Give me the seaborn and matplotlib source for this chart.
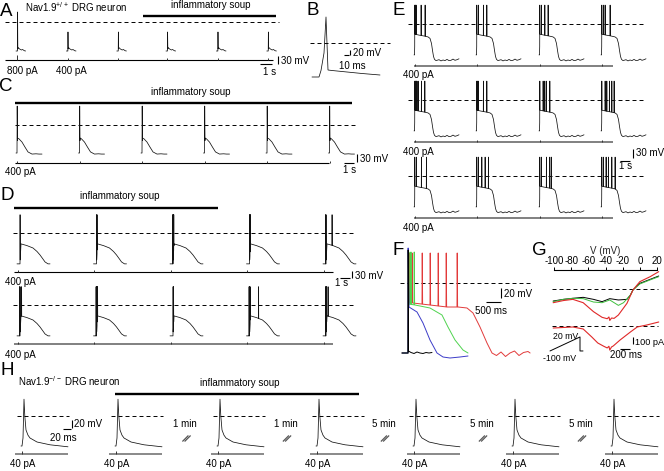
import numpy as np
import pandas as pd
import matplotlib
matplotlib.use("Agg")
import matplotlib.pyplot as plt
import seaborn as sns

sns.set_style("white")
plt.rcParams["font.family"] = ["Liberation Sans", "DejaVu Sans"]
plt.rcParams["mathtext.fontset"] = "custom"
plt.rcParams["mathtext.rm"] = "Liberation Sans"
plt.rcParams["mathtext.it"] = "Liberation Sans"
plt.rcParams["mathtext.bf"] = "Liberation Sans"
plt.rcParams["mathtext.sf"] = "Liberation Sans"
plt.rcParams["axes.unicode_minus"] = False

# ===================== DATA =====================
# A : time in s, membrane potential in mV
a_sweep_s = [0.0, 4.2, 8.4, 12.5, 16.7, 20.9]
a_peak_mv = [40, -40, -40, -40, -40, -40]
a_stim_pa = [800, 400, 400, 400, 400, 400]
a_env_s = [0.0, 0.12, 0.17, 0.30, 0.45, 0.55, 0.70, 0.80]
a_env_mv = [-116, -116, -102, -108, -112, -110, -115, -116]
a_spike_s = [0.12]
a_soup_s = [10.6, 21.7]

# B : single action potential, ms / mV
b_t_ms = [0, 14, 18, 24, 28, 32, 40, 70, 100, 136]
b_v_mv = [-136, -136, -110, -40, 104, -108, -110, -116, -122, -128]

# C
c_sweep_s = [0.0, 6.25, 12.5, 18.75, 25.0, 31.25]
c_env_s = [0.0, 0.1, 0.16, 0.3, 0.6, 0.9, 1.2, 1.6, 2.0, 2.3, 2.6]
c_env_mv = [-105, -105, -49, -52, -64, -83, -101, -109, -108, -109, -109]
c_spike_s = [0.1]
c_peak_mv = 71
c_soup_s = [-0.1, 33.6]

# D
d_sweep_s = [0.0, 7.65, 15.3, 22.95, 30.6]
d_env_s = [0.0, 0.3, 0.4, 1.0, 1.6, 2.0, 2.3, 2.6, 2.8, 3.1, 3.3]
d_env_mv = [-142, -142, -50, -58, -69, -85, -101, -120, -133, -142, -142]
d_peak_mv = 84
d_spikes_s = [
    [[0.3], [0.3, 0.35], [0.27, 0.3, 0.33, 0.37], [0.3, 0.34, 0.38], [0.25, 0.3, 0.9]],
    [[0.25, 0.3, 0.45], [0.25, 0.3, 0.35, 0.4], [0.3, 0.35], [0.25, 0.3, 0.36, 1.2],
     [0.25, 0.3, 0.35, 0.5]],
]
d_soup_s = [-0.3, 20.1]

# E
e_sweep_s = [0.0, 6.2, 12.5, 18.7]
e_env_s = [0, 0.05, 0.1, 0.5, 1.0, 1.4, 1.6, 1.75, 1.85, 1.95, 2.05, 2.2, 2.5, 2.7,
           2.9, 3.1, 3.3, 3.5, 3.7, 3.9, 4.1, 4.3, 4.5]
e_env_mv = [-103, -103, -34, -37, -40, -43, -48, -65, -88, -108, -118, -122, -119, -123,
            -120, -122, -118, -122, -121, -117, -121, -119, -116]
e_peak_mv = 63
e_spikes_s = [
    [[0.07, 0.13, 0.2, 0.7, 1.1], [0.07, 0.23, 0.73, 1.07], [0.07, 0.23, 0.57, 0.9],
     [0.07, 0.23, 0.4, 0.9]],
    [[0.07, 0.13, 0.2, 0.27, 0.4, 0.73, 1.07], [0.07, 0.13, 0.23, 0.73, 1.07],
     [0.07, 0.4, 0.57, 0.73, 1.07], [0.07, 0.4, 0.57, 0.83, 1.07, 1.3]],
    [[0.07, 0.23, 0.73, 1.23], [0.07, 0.23, 0.57, 0.9, 1.23], [0.07, 0.23, 0.73, 1.07, 1.23],
     [0.07, 0.23, 0.5, 0.73, 1.07, 1.4]],
]

# F : ms / mV, four overlaid responses
f_blk_ms = [-200, 0, 5, 15, 100, 200, 300, 400, 500, 600, 700, 800]
f_blk_mv = [-140, -140, 66, -136, -139, -141, -138, -140, -141, -139, -140, -139]
f_blu_ms = [-200, 0, 5, 33, 300, 500, 733, 967, 1167, 1400, 1733, 2000]
f_blu_mv = [-140, -140, 70, -48, -58, -80, -114, -140, -148, -150, -148, -146]
f_grn_ms = [-200, 0, 20, 233, 733, 1133, 1333, 1567, 1833, 2000]
f_grn_mv = [-140, -140, -42, -44, -50, -64, -88, -114, -134, -140]
f_grn_spk = [20, 90, 200]
f_red_ms = [-200, 0, 20, 167, 733, 1300, 1667, 1967, 2167, 2400, 2633, 2800, 2950, 3100,
            3250, 3400, 3550, 3700, 3850, 4000, 4070]
f_red_mv = [-140, -140, -38, -40, -44, -48, -48, -50, -60, -88, -120, -140, -145, -138,
            -147, -140, -136, -145, -139, -137, -140]
f_red_spk = [30, 130, 467, 733, 1000, 1267, 1633]

# G : current (pA) vs ramp voltage (mV)
g_blk_v = [-101, -89, -78, -66, -54, -44, -35, -25, -15, -11, -8, 0, 12, 22]
g_blk_i = [-172, -148, -133, -119, -148, -181, -138, -157, -148, -86, -14, 81, 138, 186]
g_grn_v = [-101, -89, -78, -66, -54, -44, -35, -25, -19, -11, -8, 0, 12, 22]
g_grn_i = [-181, -148, -133, -138, -186, -196, -157, -234, -196, -86, -14, 72, 130, 176]
g_red_v = [-101, -89, -78, -66, -54, -44, -38, -36, -35, -33, -30, -25, -15, -8, 0, 12, 22]
g_red_i = [-196, -165, -148, -196, -324, -405, -425, -400, -450, -415, -420, -372, -205, -14,
           105, 176, 248]
g_dif_v = [-101, -78, -66, -56, -49, -42, -38, -36, -35, -33, -31, -23, -11, -3, 8, 22]
g_dif_i = [-29, -14, -43, -157, -243, -290, -314, -290, -345, -300, -286, -200, -86, -14, 14, 57]
g_ramp_ms = [0, 600, 600, 660]
g_ramp_mv = [-100, 20, -100, -100]
g_ticks_mv = [-100, -80, -60, -40, -20, 0, 20]

# H : Nav1.9-/- single APs, ms / mV
h_t_ms = [-2.5, 0, 2.5, 5, 7, 10, 15, 20, 37.5, 70, 115]
h_v_mv = [-75, -75, -55, 42, 0, -35, -48, -55, -65, -72, -77]
h_gap = ["", "1 min", "1 min", "5 min", "5 min", "5 min"]
h_stim_pa = 40

# ===================== LAYOUT =====================
W, H = 664, 471
fig = plt.figure(figsize=(W / 100, H / 100), dpi=100)
fig.patch.set_facecolor("white")

LW = 0.55


def calib_axes(x0, y0, sx, sy):
    """Full-figure axes where data (0,0) sits at pixel (x0,y0); sx, sy = data units per pixel."""
    ax = fig.add_axes([0, 0, 1, 1])
    ax.set_xlim(-x0 * sx, (W - x0) * sx)
    ax.set_ylim((y0 - H) * sy, y0 * sy)
    ax.set_autoscale_on(False)
    ax.axis("off")
    ax.patch.set_alpha(0)
    return ax


DASH = (0, (4.1, 3.1))


def trace(ax, t, v, color="#111111", lw=LW):
    sns.lineplot(x=np.asarray(t, float), y=np.asarray(v, float), ax=ax, color=color,
                 linewidth=lw, sort=False, estimator=None, clip_on=False)


def seg(ax, t, v, color="black", lw=0.8):
    ax.plot(t, v, color=color, lw=lw, clip_on=False, solid_capstyle="butt")


def dashed(ax, t0, t1, v, lw=0.7):
    ax.plot([t0, t1], [v, v], color="black", lw=lw, ls=DASH, clip_on=False)


def stim(ax, t0, t1, base, onsets, heights, width, color, lw):
    ax.plot([t0, t1], [base, base], color=color, lw=lw, clip_on=False, solid_capstyle="butt")
    for o, h in zip(onsets, heights):
        ax.plot([o, o], [base, base + h], color="#333333", lw=0.7, clip_on=False,
                solid_capstyle="butt")


def spiky(env_t, env_v, spikes, peak, w):
    et = np.asarray(env_t, float)
    ev = np.asarray(env_v, float)
    keep = [not any(s <= x <= s + w for s in spikes) for x in et]
    t = list(et[keep])
    v = list(ev[keep])
    for s in spikes:
        t += [s, s + 0.4 * w, s + w]
        v += [np.interp(s, et, ev), peak, np.interp(s + w, et, ev)]
    order = np.argsort(t, kind="stable")
    return np.array(t)[order], np.array(v)[order]


# ---------- A ----------
axA = calib_axes(16, 22, 1 / 12, 4)
dashed(axA, -0.9, 21.9, 0)
seg(axA, a_soup_s, [24, 24], lw=1.7)
for st, pk in zip(a_sweep_s, a_peak_mv):
    t, v = spiky(a_env_s, a_env_mv, a_spike_s, pk, 0.03)
    trace(axA, t + st, v)
stim(axA, -0.9, 21.4, -152, [s + a_spike_s[0] for s in a_sweep_s],
     [p * 0.025 for p in a_stim_pa], 0.0, "black", 0.8)
seg(axA, [21.8, 21.8], [-136, -166])
seg(axA, [20.3, 21.3], [-168, -168])

# ---------- B ----------
axB = calib_axes(312, 43, 2, 4)
dashed(axB, -4, 156, 0)
trace(axB, b_t_ms, b_v_mv)
seg(axB, [75, 75], [-28, -48])
seg(axB, [64, 74], [-48, -48])

# ---------- C ----------
axC = calib_axes(16, 125, 0.1, 3.75)
seg(axC, c_soup_s, [82.5, 82.5], lw=1.7)
dashed(axC, -0.1, 33.9, 0)
for st in c_sweep_s:
    t, v = spiky(c_env_s, c_env_mv, c_spike_s, c_peak_mv, 0.05)
    trace(axC, t + st, v)
stim(axC, -0.1, 31.3, -142.5, [s + 0.1 for s in c_sweep_s], [9] * 6, 0.0, "black", 0.8)
seg(axC, [34.1, 34.1], [-108.75, -138.75])
seg(axC, [32.8, 33.8], [-142.5, -142.5])

# ---------- D ----------
axD = calib_axes(17, 233, 0.1, 4.6)
seg(axD, d_soup_s, [115, 115], lw=1.7)
for r, rows in enumerate(d_spikes_s):
    off = -r * 72 * 4.6
    dashed(axD, -0.4, 33.8, off)
    for st, spk in zip(d_sweep_s, rows):
        t, v = spiky(d_env_s, d_env_mv, spk, d_peak_mv, 0.02)
        trace(axD, t + st, v + off)
    stim(axD, -0.3, 31.6, off - 180, [s + 0.1 for s in d_sweep_s], [10] * 5, 0.0,
         "black" if r == 0 else "#808080", 0.8 if r == 0 else 1.4)
seg(axD, [33.5, 33.5], [-177, -207])
seg(axD, [32.3, 33.3], [-207, -207])

# ---------- E ----------
axE = calib_axes(414, 24, 0.1, 10 / 3)
for r, rows in enumerate(e_spikes_s):
    off = -r * 76 * 10 / 3
    dashed(axE, -0.6, 23.2, off)
    for st, spk in zip(e_sweep_s, rows):
        t, v = spiky(e_env_s, e_env_mv, spk, e_peak_mv, 0.03)
        trace(axE, t + st, v + off)
    stim(axE, 0, 19.9, off - 140, [s + 0.05 for s in e_sweep_s], [8] * 4, 0.0, "#808080", 1.4)
seg(axE, [21.9, 21.9], [-416.7, -446.7])
seg(axE, [20.6, 21.6], [-456.7, -456.7])

# ---------- F ----------
axF = calib_axes(408, 283, 100 / 3, 2)
dashed(axF, -267, 4067, 0)
t, v = spiky(f_red_ms, f_red_mv, f_red_spk, 60, 20)
trace(axF, t, v, color="#e23a3a", lw=0.7)
t, v = spiky(f_grn_ms, f_grn_mv, f_grn_spk, 62, 20)
trace(axF, t, v, color="#4fd34f", lw=0.7)
trace(axF, f_blu_ms, f_blu_mv, color="#3c3cc8", lw=0.7)
trace(axF, f_blk_ms, f_blk_mv, color="black", lw=0.7)
seg(axF, [3100, 3100], [-10, -30])
seg(axF, [2600, 3100], [-38, -38])

# ---------- G ----------
gx0, gx1, gy0, gy1 = 554, 657, 270, 365
axG = fig.add_axes([gx0 / W, 1 - gy1 / H, (gx1 - gx0) / W, (gy1 - gy0) / H])
axG.set_facecolor("none")
axG.set_xlim(-100, 20)
axG.set_ylim((289 - gy1) * 14.3, (289 - gy0) * 14.3)
axG.set_autoscale_on(False)
dashed(axG, -102, 21, 0)
dashed(axG, -102, 21, -529)
trace(axG, g_blk_v, g_blk_i, color="black", lw=0.7)
trace(axG, g_grn_v, g_grn_i, color="#3fbf3f", lw=0.7)
trace(axG, g_red_v, g_red_i, color="#e02828", lw=0.8)
trace(axG, g_dif_v, np.array(g_dif_i) - 529, color="#e02828", lw=0.8)
seg(axG, [-7.9, -7.9], [-686, -786])
for s in ["left", "right", "bottom"]:
    axG.spines[s].set_visible(False)
axG.spines["top"].set_linewidth(0.8)
axG.spines["top"].set_color("black")
axG.xaxis.tick_top()
axG.xaxis.set_label_position("top")
axG.set_xticks(g_ticks_mv)
axG.set_xticklabels([str(x) for x in g_ticks_mv])
axG.set_yticks([])
axG.tick_params(axis="x", direction="out", length=2, width=0.7, pad=1, labelsize=7,
                colors="black")
axG.set_xlabel("V (mV)", fontsize=7, labelpad=1)
axG.set_ylabel("")

axR = calib_axes(550, 339.3, 20, 120 / 14)
trace(axR, g_ramp_ms, g_ramp_mv, color="black", lw=0.7)
seg(axR, [1400, 1600], [-83, -83])

# ---------- H ----------
axH = calib_axes(22, 416, 2.5, 2.5)
h_pos_px = [22, 116, 218, 317, 414, 513, 612]
h_off = [(p - 22) * 2.5 for p in h_pos_px]
for off in h_off:
    trace(axH, np.array(h_t_ms) + off, h_v_mv)
    dashed(axH, off - 12.5, off + 117.5, 0)
    stim(axH, off - 17.5, off + 115, -95, [off], [h_stim_pa * 0.19], 0.0, "#808080", 1.3)
seg(axH, [h_off[1] - 2.5, h_off[3] + 105], [55, 55], lw=1.7)
seg(axH, [125, 125], [-10, -30])
seg(axH, [102.5, 122.5], [-32.5, -32.5])

# ---------- text layer (pixel coordinates) ----------
axp = calib_axes(0, 0, 1, -1)
FS = 7


def T(x, y, s, ha="left", size=FS):
    axp.text(x, y, s, ha=ha, va="baseline", fontsize=size, color="black")


for letter, x, y in [("A", 0, 16), ("B", 306, 15), ("C", -1, 91), ("D", 0, 200),
                     ("E", 392, 15), ("F", 393, 255), ("G", 532, 255), ("H", 0, 375)]:
    T(x, y, letter, size=13.5)

T(25, 12, "Nav1.9$^{+/+}$ DRG neuron")
T(211, 8, "inflammatory soup", ha="center")
T(7, 74, "800 pA")
T(56, 74, "400 pA")
T(281, 64, "30 mV")
T(270, 75, "1 s", ha="center")

T(353, 56, "20 mV")
T(352, 69, "10 ms", ha="center")

T(191, 95, "inflammatory soup", ha="center")
T(5, 175, "400 pA")
T(360, 162, "30 mV")
T(350, 173, "1 s", ha="center")

T(120, 199, "inflammatory soup", ha="center")
T(5, 285, "400 pA")
T(5, 358, "400 pA")
T(355, 279, "30 mV")
T(342, 286, "1 s", ha="center")

for yb in [78, 155, 231]:
    T(403, yb, "400 pA")
T(636, 156, "30 mV")
T(626, 169, "1 s", ha="center")

T(504, 297, "20 mV")
T(491, 314, "500 ms", ha="center")

T(566, 339, "20 mV", ha="center", size=6.3)
T(560, 361, "-100 mV", ha="center", size=6.3)
T(635, 345, "100 pA", size=6.6)
T(626, 358, "200 ms", ha="center")

T(18, 386, "Nav1.9$^{-/-}$ DRG neuron")
T(240, 386, "inflammatory soup", ha="center")
T(74, 427, "20 mV")
T(63, 441, "20 ms", ha="center")
for p in h_pos_px:
    T(p - 12, 467, "40 pA")
for i in range(1, len(h_pos_px) - 1):
    lab = h_gap[i]
    mid = ((h_pos_px[i] + 46) + (h_pos_px[i + 1] - 7)) / 2 - 1.5
    T(mid, 427, lab, ha="center")
    cx, cy = mid + 1.5, 438.5
    for d in (-1.1, 1.1):
        axp.plot([cx - 3 + d, cx + 3 + d], [cy + 3, cy - 3], color="#555555", lw=0.9,
                 solid_capstyle="butt")

fig.savefig("out.png", dpi=100)
